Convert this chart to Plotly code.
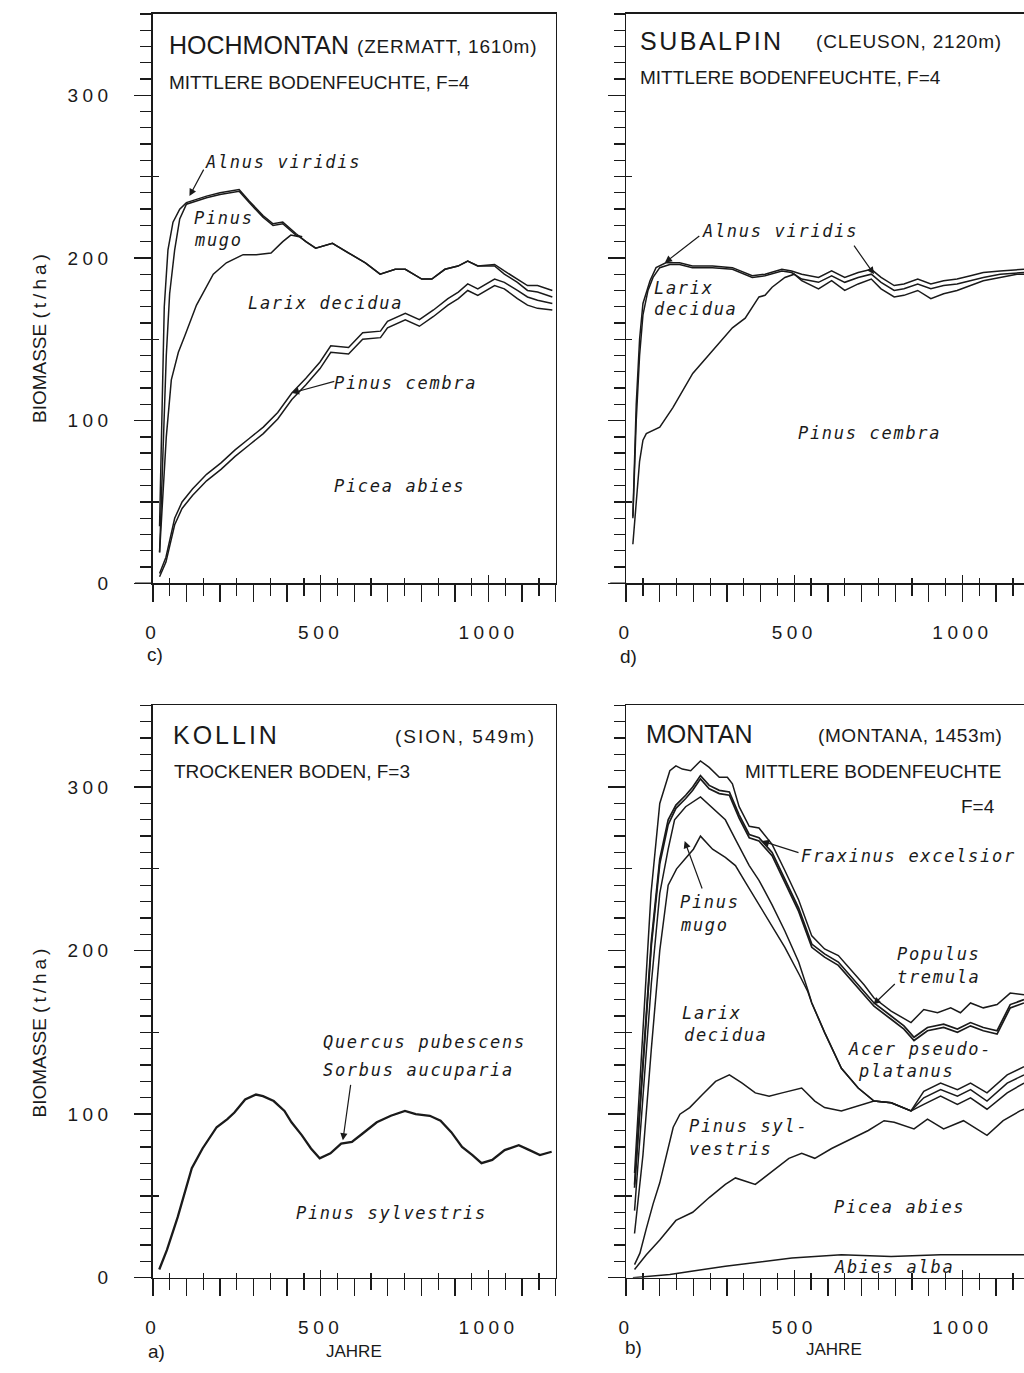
import plotly.graph_objects as go

W, H = 1024, 1373
INK = '#1a1a1a'
SANS = 'Liberation Sans, Arial, Helvetica, sans-serif'
MONO = 'DejaVu Sans Mono, Liberation Mono, monospace'

# ---------------- data (cumulative biomass, t/ha, vs. years) ----------------
# c) HOCHMONTAN (Zermatt, 1610 m)
c_alnus_yr = [20, 27, 34, 45, 60, 80, 100, 130, 160, 200, 230, 257, 287, 328, 358, 387, 426, 456, 485, 535, 583,
              633, 677, 722, 752, 801, 831, 870, 909, 938, 968, 1018, 1047, 1086, 1116, 1146, 1190]
c_alnus = [35, 100, 170, 205, 222, 230, 234, 236, 238, 240, 241, 242, 235, 226, 221, 222, 215, 210, 206, 209, 203,
           197, 190, 193, 193, 187, 187, 193, 195, 198, 195, 196, 192, 187, 183, 183, 180]
c_mugo_yr = [20, 30, 40, 50, 65, 80, 100, 130, 160, 200, 230, 257, 287, 328, 358, 387, 426, 445]
c_mugo = [19, 80, 140, 178, 205, 224, 233, 235, 237, 239, 240, 241, 234, 225, 220, 221, 214, 213]
c_larix_yr = [20, 30, 40, 55, 76, 95, 130, 180, 219, 269, 308, 352, 387, 411, 436, 456, 485, 535, 583, 633, 677,
              722, 752, 801, 831, 870, 909, 938, 968, 1018, 1047, 1086, 1116, 1146, 1190]
c_larix = [19, 55, 90, 125, 142, 152, 171, 190, 197, 202, 202, 203, 210, 214, 213, 210, 206, 209, 203, 197, 190,
           193, 193, 187, 187, 193, 195, 198, 195, 195, 190, 185, 180, 179, 176]
c_low_yr = [20, 39, 65, 87, 118, 160, 203, 245, 287, 329, 372, 414, 456, 498, 530, 583, 625, 678, 699, 752, 794,
            836, 879, 910, 938, 968, 1018, 1047, 1086, 1116, 1146, 1190]
c_cembra = [6, 16, 40, 50, 58, 67, 74, 82, 89, 96, 105, 117, 126, 136, 146, 145, 154, 155, 161, 166, 162,
            168, 175, 179, 184, 181, 187, 185, 180, 176, 174, 172]
c_picea = [4, 13, 36, 46, 54, 63, 70, 78, 85, 92, 101, 113, 122, 132, 142, 141, 150, 151, 157, 162, 158,
           164, 171, 175, 180, 177, 183, 181, 175, 171, 169, 168]

# d) SUBALPIN (Cleuson, 2120 m)
d_alnus_yr = [20, 30, 40, 50, 71, 89, 118, 159, 197, 257, 316, 375, 413, 463, 492, 522, 572, 611, 650, 690, 729,
              758, 797, 826, 867, 906, 944, 984, 1024, 1062, 1112, 1162, 1183]
d_alnus = [41, 110, 150, 172, 186, 194, 197, 197, 195, 195, 194, 189, 190, 193, 192, 190, 188, 192, 188, 191, 193,
           188, 183, 184, 187, 184, 186, 187, 189, 191, 192, 193, 193]
d_larix_yr = [20, 30, 40, 50, 65, 80, 100, 130, 159, 197, 257, 316, 375, 413, 463, 492, 522, 572, 611, 650, 690,
              729, 758, 797, 826, 867, 906, 944, 984, 1024, 1062, 1112, 1162, 1183]
d_larix = [40, 100, 140, 165, 180, 188, 194, 196, 196, 194, 194, 193, 188, 189, 192, 191, 187, 185, 189, 185, 188,
           190, 185, 180, 181, 184, 181, 183, 184, 186, 188, 190, 191, 191]
d_cembra_yr = [20, 30, 40, 50, 60, 100, 139, 198, 257, 316, 354, 375, 395, 413, 434, 472, 500, 522, 572, 611, 650,
               690, 729, 758, 797, 826, 867, 906, 944, 984, 1024, 1062, 1112, 1162, 1183]
d_cembra = [24, 50, 75, 88, 92, 96, 108, 129, 143, 157, 163, 170, 176, 177, 182, 188, 190, 186, 181, 186, 180,
            184, 187, 181, 176, 177, 180, 175, 178, 180, 183, 186, 188, 190, 190]

# a) KOLLIN (Sion, 549 m)
a_yr = [19, 42, 74, 116, 148, 190, 222, 243, 275, 307, 328, 360, 392, 413, 444, 471, 497, 529, 561, 593, 624,
        667, 709, 751, 783, 825, 857, 889, 921, 952, 979, 1011, 1048, 1090, 1122, 1153, 1188]
a_total = [5, 17, 37, 67, 79, 92, 97, 101, 109, 112, 111, 108, 102, 95, 87, 79, 73, 76, 82, 83, 88,
           95, 99, 102, 100, 99, 96, 89, 80, 75, 70, 72, 78, 81, 78, 75, 77]

# b) MONTAN (Montana, 1453 m)
b_abies_yr = [20, 130, 295, 493, 640, 788, 935, 1183]
b_abies = [0, 2, 7, 12, 14, 13, 14, 14]
b_picea_yr = [25, 60, 100, 148, 198, 247, 295, 325, 384, 434, 484, 522, 561, 611, 670, 720, 767, 797, 856, 896,
              944, 1003, 1073, 1121, 1171, 1183]
b_picea = [5, 14, 23, 35, 40, 49, 57, 61, 57, 65, 73, 76, 73, 79, 85, 90, 96, 95, 91, 97,
           91, 96, 87, 96, 102, 103]
b_sylv_yr = [25, 41, 60, 80, 100, 120, 140, 160, 189, 227, 266, 307, 345, 384, 425, 464, 522, 561, 590, 640, 690,
             737, 788, 847, 885, 935, 985, 1024, 1073, 1133, 1183]
b_sylv = [8, 15, 30, 45, 58, 75, 92, 100, 104, 112, 120, 124, 119, 113, 111, 113, 116, 108, 104, 102, 105,
          108, 107, 102, 106, 111, 106, 110, 103, 113, 119]
b_larix_yr = [25, 50, 75, 100, 125, 150, 175, 200, 221, 257, 295, 325, 354, 395, 434, 472, 513, 540, 552, 590,
              640, 690, 737, 788, 847, 885, 935, 985, 1024, 1073, 1133, 1183]
b_larix = [27, 75, 140, 200, 240, 250, 256, 262, 270, 262, 257, 252, 242, 228, 215, 202, 186, 175, 168, 150,
           128, 116, 108, 107, 102, 110, 115, 111, 115, 108, 119, 124]
b_mugo_yr = [25, 50, 75, 100, 125, 144, 177, 221, 257, 295, 325, 366, 395, 434, 472, 513, 540, 552, 590, 640,
             690, 737, 788, 847, 885, 935, 985, 1024, 1073, 1133, 1183]
b_mugo = [41, 110, 180, 235, 262, 280, 288, 294, 287, 280, 268, 252, 243, 228, 212, 193, 176, 168, 150, 128,
          116, 108, 107, 102, 114, 119, 115, 119, 113, 124, 129]
b_top_yr = [25, 50, 75, 100, 125, 148, 177, 198, 221, 247, 277, 307, 336, 366, 395, 434, 472, 513, 552, 590,
            631, 670, 708, 737, 788, 826, 856, 896, 944, 985, 1024, 1062, 1103, 1142, 1183]
b_acer = [55, 128, 203, 253, 277, 287, 293, 298, 305, 299, 296, 295, 281, 269, 267, 258, 242, 224, 202, 196,
          191, 182, 173, 166, 158, 152, 145, 151, 153, 150, 154, 151, 149, 165, 168]
b_populus = [57, 131, 206, 256, 280, 289, 295, 300, 307, 301, 298, 297, 283, 271, 269, 260, 244, 226, 204, 198,
             193, 184, 175, 168, 160, 154, 147, 153, 155, 152, 156, 153, 151, 167, 170]
b_frax_yr = [25, 50, 74, 100, 130, 148, 167, 192, 221, 247, 277, 301, 316, 336, 366, 395, 434, 472, 513, 552,
             590, 631, 670, 708, 737, 788, 847, 885, 926, 965, 994, 1024, 1062, 1103, 1142, 1183]
b_frax = [64, 150, 235, 290, 310, 313, 311, 310, 316, 312, 306, 306, 302, 288, 276, 275, 265, 249, 231, 209,
          201, 197, 188, 179, 171, 163, 156, 164, 162, 165, 162, 168, 165, 167, 174, 173]

y_ticks = [0, 100, 200, 300]
x_label_ticks = [0, 500, 1000]

# ---------------- figure ----------------
def aid(i):
    return '' if i == 1 else str(i)


def sp(t, ls):
    return f'<span style="letter-spacing:{ls}px">{t}</span>'


fig = go.Figure()


def add_line(i, yrs, vals, name, width=1.5):
    fig.add_trace(go.Scatter(x=yrs, y=vals, mode='lines', name=name,
                             line=dict(color=INK, width=width),
                             xaxis='x' + aid(i), yaxis='y' + aid(i),
                             showlegend=False, hoverinfo='skip'))


# panel 1 = c (top left), 2 = d (top right), 3 = a (bottom left), 4 = b (bottom right)
add_line(1, c_low_yr, c_picea, 'Picea abies')
add_line(1, c_low_yr, c_cembra, 'Pinus cembra')
add_line(1, c_larix_yr, c_larix, 'Larix decidua')
add_line(1, c_mugo_yr, c_mugo, 'Pinus mugo')
add_line(1, c_alnus_yr, c_alnus, 'Alnus viridis')

add_line(2, d_cembra_yr, d_cembra, 'Pinus cembra')
add_line(2, d_larix_yr, d_larix, 'Larix decidua')
add_line(2, d_alnus_yr, d_alnus, 'Alnus viridis')

add_line(3, a_yr, a_total, 'Pinus sylvestris / Sorbus / Quercus', width=2.3)

add_line(4, b_abies_yr, b_abies, 'Abies alba')
add_line(4, b_picea_yr, b_picea, 'Picea abies')
add_line(4, b_sylv_yr, b_sylv, 'Pinus sylvestris')
add_line(4, b_larix_yr, b_larix, 'Larix decidua')
add_line(4, b_mugo_yr, b_mugo, 'Pinus mugo')
add_line(4, b_top_yr, b_acer, 'Acer pseudoplatanus', width=1.7)
add_line(4, b_top_yr, b_populus, 'Populus tremula', width=1.7)
add_line(4, b_frax_yr, b_frax, 'Fraxinus excelsior')

dom_left = [146 / W, 552 / W]
dom_right = [623 / W, 1.0]
dom_top = [1 - 588 / H, 1 - 14 / H]
dom_bot = [1 - 1288 / H, 1 - 711 / H]

panels = {
    1: (dom_left, dom_top, 1200, True),
    2: (dom_right, dom_top, 1183, False),
    3: (dom_left, dom_bot, 1200, True),
    4: (dom_right, dom_bot, 1183, False),
}

layout = dict(width=W, height=H, margin=dict(l=0, r=0, t=0, b=0),
              paper_bgcolor='white', plot_bgcolor='white', showlegend=False)
shapes = []
tickfont = dict(family=SANS, size=19, color=INK)

for i, (xd, yd, xmax, left) in panels.items():
    xt = list(range(0, int(xmax) + 1, 100))
    xtt = [sp(str(v), 4.5) if v in x_label_ticks else '' for v in xt]
    layout['xaxis' + aid(i)] = dict(
        domain=xd, anchor='y' + aid(i), range=[0, xmax], showline=True, linecolor=INK,
        linewidth=1.4, mirror=True, showgrid=False, zeroline=False,
        tickmode='array', tickvals=xt, ticktext=xtt, ticks='outside', ticklen=17,
        tickwidth=1.3, tickcolor=INK, tickfont=tickfont, ticklabelstandoff=15,
        minor=dict(tickmode='linear', tick0=0, dtick=50, ticks='outside', ticklen=11,
                   tickwidth=1.3, tickcolor=INK, showgrid=False),
        fixedrange=True)
    layout['yaxis' + aid(i)] = dict(
        domain=yd, anchor='x' + aid(i), range=[0, 350], showline=True, linecolor=INK,
        linewidth=1.4, mirror=left, showgrid=False, zeroline=False,
        tickmode='array', tickvals=y_ticks, ticktext=[sp(str(v), 4.5) for v in y_ticks],
        showticklabels=left, ticks='outside', ticklen=17, tickwidth=1.3, tickcolor=INK,
        tickfont=tickfont, ticklabelstandoff=18,
        minor=dict(tickmode='linear', tick0=0, dtick=10, ticks='outside', ticklen=11,
                   tickwidth=1.3, tickcolor=INK, showgrid=False),
        fixedrange=True)
    j = i + 4
    layout['xaxis' + str(j)] = dict(
        overlaying='x' + aid(i), anchor='y' + str(j), range=[0, xmax], showline=False,
        showgrid=False, zeroline=False, showticklabels=False,
        tickmode='array', tickvals=[500, 1000], ticks='inside', ticklen=8, tickwidth=1.3,
        tickcolor=INK,
        minor=dict(tickmode='linear', tick0=50, dtick=100, ticks='inside', ticklen=5,
                   tickwidth=1.3, tickcolor=INK, showgrid=False),
        fixedrange=True)
    layout['yaxis' + str(j)] = dict(
        overlaying='y' + aid(i), anchor='x' + str(j), range=[0, 350], showline=False,
        showgrid=False, zeroline=False, showticklabels=False,
        tickmode='array', tickvals=[50, 150, 250], ticks='inside', ticklen=6, tickwidth=1.3,
        tickcolor=INK, fixedrange=True)
    fig.add_trace(go.Scatter(x=[None], y=[None], xaxis='x' + str(j), yaxis='y' + str(j),
                             showlegend=False, hoverinfo='skip'))
    ext = 18 / 406 if left else 16 / 401
    shapes.append(dict(type='line', xref='x' + aid(i) + ' domain', yref='y' + aid(i),
                       x0=-ext, x1=0, y0=0, y1=0, line=dict(color=INK, width=1.4)))

layout['shapes'] = shapes

ann = []


def text(t, px, py, size, family=SANS, italic=False, ls=0, xanchor='left', angle=0):
    ann.append(dict(text=sp(t, ls) if ls else t, x=px / W, y=1 - py / H, xref='paper', yref='paper',
                    xanchor=xanchor, yanchor='middle', showarrow=False, textangle=angle,
                    font=dict(family=family, size=size, color=INK,
                              style='italic' if italic else 'normal')))


def species(t, px, py):
    text(t, px, py, 17, family=MONO, italic=True, ls=1.7)


def arrow(i, x, y, dx, dy):
    ann.append(dict(text='', x=x, y=y, xref='x' + aid(i), yref='y' + aid(i), ax=dx, ay=dy,
                    showarrow=True, arrowhead=2, arrowsize=1.2, arrowwidth=1.2,
                    arrowcolor=INK, standoff=0))


# titles
text('HOCHMONTAN', 160, 45, 25)
text('(ZERMATT, 1610m)', 350, 47, 19, ls=0.8)
text('MITTLERE BODENFEUCHTE, F=4', 160, 83, 19)
text('SUBALPIN', 635, 41, 25, ls=2.5)
text('(CLEUSON, 2120m)', 812, 42, 19, ls=0.8)
text('MITTLERE BODENFEUCHTE, F=4', 635, 78, 19)
text('KOLLIN', 164, 741, 25, ls=3)
text('(SION, 549m)', 388, 742, 19, ls=2)
text('TROCKENER BODEN, F=3', 165, 778, 19)
text('MONTAN', 641, 740, 25)
text('(MONTANA, 1453m)', 814, 741, 19, ls=0.6)
text('MITTLERE BODENFEUCHTE', 741, 778, 19)
text('F=4', 958, 813, 19)

# species labels
species('Alnus viridis', 197, 163)
species('Pinus', 185, 220)
species('mugo', 185, 242)
species('Larix decidua', 240, 305)
species('Pinus cembra', 327, 386)
species('Picea abies', 327, 490)

species('Alnus viridis', 697, 233)
species('Larix', 649, 290)
species('decidua', 649, 311)
species('Pinus cembra', 794, 436)

species('Quercus pubescens', 315, 1050)
species('Sorbus aucuparia', 315, 1079)
species('Pinus sylvestris', 288, 1223)

species('Fraxinus excelsior', 797, 863)
species('Pinus', 675, 909)
species('mugo', 675, 932)
species('Populus', 894, 962)
species('tremula', 894, 985)
species('Larix', 677, 1021)
species('decidua', 679, 1043)
species('Acer pseudo-', 845, 1057)
species('platanus', 855, 1080)
species('Pinus syl-', 684, 1135)
species('vestris', 684, 1158)
species('Picea abies', 830, 1217)
species('Abies alba', 830, 1277)

# arrows (tip in data units, tail offset in pixels)
arrow(1, 109, 238, 15, -28)
arrow(1, 414, 117, 44, -12)
arrow(2, 115, 197, 36, -28)
arrow(2, 737, 190, -21, -30)
arrow(3, 566, 84, 8, -57)
arrow(4, 404, 267, 38, 12)
arrow(4, 174, 267, 18, 49)
arrow(4, 735, 167, 23, -22)

# axis titles and panel letters
text('BIOMASSE ' + sp('(t/ha)', 4), 32, 339, 19, xanchor='center', angle=-90)
text('BIOMASSE ' + sp('(t/ha)', 4), 32, 1039, 19, xanchor='center', angle=-90)
text('c)', 138, 660, 19)
text('d)', 615, 662, 19)
text('a)', 139, 1362, 19)
text('b)', 620, 1358, 19)
text('JAHRE', 349, 1362, 17, xanchor='center')
text('JAHRE', 832, 1360, 17, xanchor='center')

layout['annotations'] = ann
fig.update_layout(**layout)
fig.write_html('out.html', config={'displayModeBar': False, 'staticPlot': True},
               post_script="document.body.style.margin='0';document.body.style.overflow='hidden';")
